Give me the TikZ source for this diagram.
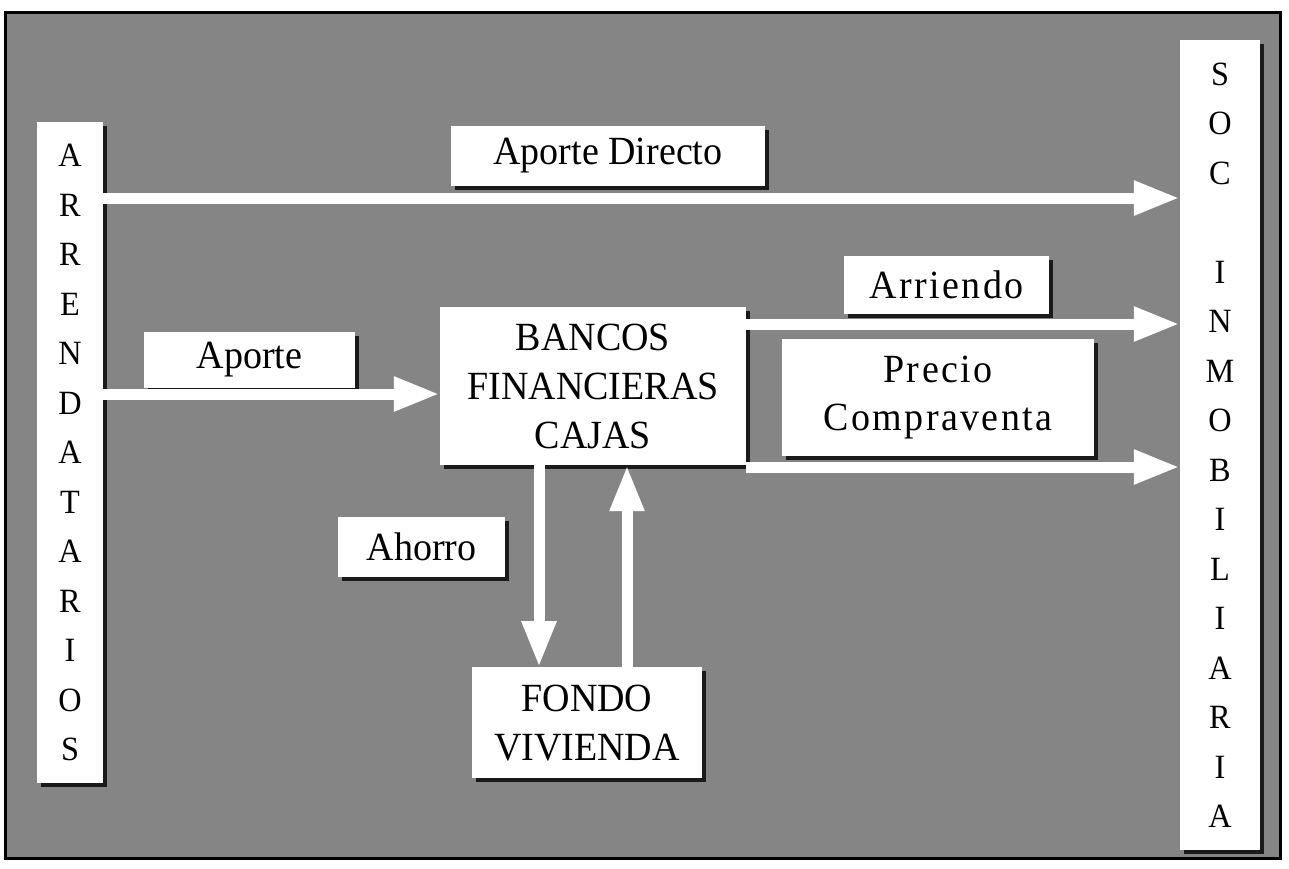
\documentclass[tikz,border=0pt]{standalone}
\usepackage{fontspec}
\setmainfont[FakeStretch=0.95]{Liberation Serif}
\newfontfamily\spacedfont[LetterSpace=6,FakeStretch=0.95]{Liberation Serif}
\usetikzlibrary{arrows.meta,positioning,shadows}
\definecolor{scangray}{gray}{0.52}
\tikzstyle{box} = [fill=white, inner sep=0pt, align=center, font=\fontsize{40}{49}\selectfont, drop shadow={shadow xshift=4pt, shadow yshift=-4pt, fill=black, opacity=0.8}]
\tikzstyle{column} = [box, font=\fontsize{34}{49.5}\selectfont]
\tikzstyle{wide} = [font={\spacedfont\fontsize{40}{48}\selectfont}]
\tikzstyle{flow} = [draw=white, line width=11pt, -{Triangle[length=46pt,width=32pt]}]

\begin{document}
\begin{tikzpicture}[x=1pt,y=-1pt]
\useasboundingbox (0,0) rectangle (1289,868);
\draw[line width=3pt, fill=scangray] (5,12) rectangle (1280,858);

% participantes
\node[column, minimum width=66pt, minimum height=661pt] (arr) at (70,452.5) {A\\R\\R\\E\\N\\D\\A\\T\\A\\R\\I\\O\\S};
\node[column, minimum width=80pt, minimum height=810pt] (soc) at (1220,445) {S\\O\\C\\[49.5pt]I\\N\\M\\O\\B\\I\\L\\I\\A\\R\\I\\A};
\node[box, minimum width=306pt, minimum height=158pt] (bancos) at (593,386) {BANCOS\\FINANCIERAS\\CAJAS};
\node[box, minimum width=230pt, minimum height=111pt, below=202pt of bancos, xshift=-6pt] (fondo) {FONDO\\VIVIENDA};

% rotulos
\node[box, minimum width=314pt, minimum height=60pt] (directo) at (608,156) {Aporte Directo};
\node[box, minimum width=211pt, minimum height=56pt] (aporte) at (249.5,360) {Aporte};
\node[box, wide, minimum width=205pt, minimum height=58pt] (arriendo) at (946.5,285) {Arriendo};
\node[box, wide, minimum width=312pt, minimum height=117pt] (precio) at (938,397.5) {Precio\\Compraventa};
\node[box, minimum width=167pt, minimum height=60pt] (ahorro) at (421.5,547) {Ahorro};

\coordinate (h1) at (0,198);
\coordinate (h2) at (0,394);
\coordinate (h3) at (0,324);
\coordinate (h4) at (0,467);
\coordinate (v1) at (539,0);
\coordinate (v2) at (627,0);

\draw[flow] (arr.east |- h1) -- (soc.west |- h1);
\draw[flow] (arr.east |- h2) -- (bancos.west |- h2);
\draw[flow] (bancos.east |- h3) -- (soc.west |- h3);
\draw[flow] (bancos.east |- h4) -- (soc.west |- h4);
\draw[flow] (bancos.south -| v1) -- (fondo.north -| v1);
\draw[flow] (fondo.north -| v2) -- (bancos.south -| v2);

\end{tikzpicture}
\end{document}
